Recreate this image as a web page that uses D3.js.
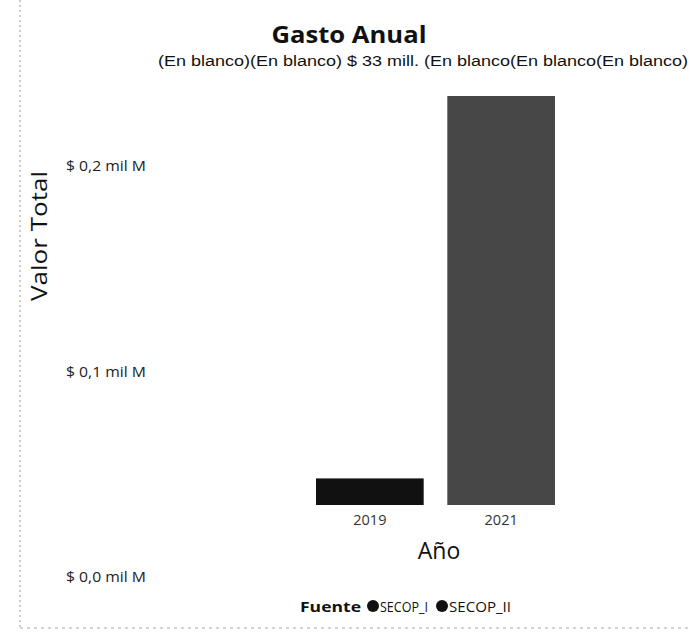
<!DOCTYPE html>
<html><head><meta charset="utf-8">
<script src="https://cdn.jsdelivr.net/npm/d3@7"></script>
<style>body{margin:0;background:#fff}svg{display:block}</style>
</head><body>
<svg id="c" width="691" height="642"></svg>
<script>
const years = ["2019", "2021"];
const series = ["SECOP_I", "SECOP_II"];
const secopI = [13, 0];     // millones
const secopII = [0, 200];   // millones
const tickValues = [0, 100, 200];
const tickLabels = ["$ 0,0 mil M", "$ 0,1 mil M", "$ 0,2 mil M"];
const dataLabelText = "(En blanco)(En blanco) $ 33 mill.  (En blanco(En blanco(En blanco)";

const colors = {SECOP_I: "#111111", SECOP_II: "#474747"};
const svg = d3.select("#c");
const font = "'Open Sans', 'Noto Sans', sans-serif";

// frame artifacts
svg.append("line").attr("x1",20).attr("x2",20).attr("y1",0).attr("y2",628)
  .attr("stroke","#999").attr("stroke-dasharray","2,3").attr("stroke-width",1);
svg.append("line").attr("x1",20).attr("x2",691).attr("y1",628).attr("y2",628)
  .attr("stroke","#aaa").attr("stroke-dasharray","3,4").attr("stroke-width",1);

const x = d3.scaleBand().domain(years).range([316, 555]).paddingInner(0.18).paddingOuter(0);
const y = d3.scaleLinear().domain([0, 200]).range([505, 96]);
const yTick = d3.scaleLinear().domain([0, 200]).range([577, 166]);

const stackData = years.map((yr, i) => ({year: yr, SECOP_I: secopI[i], SECOP_II: secopII[i]}));
const stacked = d3.stack().keys(series)(stackData);

svg.append("g").selectAll("g").data(stacked).join("g")
  .attr("fill", d => colors[d.key])
  .selectAll("rect").data(d => d.filter(p => p[1] - p[0] > 0)).join("rect")
  .attr("x", d => x(d.data.year)).attr("width", x.bandwidth())
  .attr("y", d => y(d[1])).attr("height", d => y(d[0]) - y(d[1]));

// title
svg.append("text").attr("x", 349).attr("y", 43).attr("text-anchor","middle")
  .attr("font-family", font).attr("font-weight","bold").attr("font-size", 23).attr("fill","#111")
  .attr("textLength", 155).attr("lengthAdjust","spacingAndGlyphs")
  .text("Gasto Anual");
// data labels row
svg.append("text").attr("x", 158).attr("y", 66)
  .attr("font-family","'Liberation Sans', Arial, sans-serif").attr("font-size", 14).attr("fill","#111")
  .attr("textLength", 530).attr("lengthAdjust","spacingAndGlyphs")
  .text(dataLabelText);

// y axis tick labels
const yAxis = d3.axisLeft(yTick).tickValues(tickValues).tickFormat((d,i) => tickLabels[i]).tickSize(0);
const gy = svg.append("g").attr("transform","translate(66,0)").call(yAxis);
gy.select(".domain").remove();
gy.selectAll("text").attr("text-anchor","start").attr("x",0)
  .attr("font-family", font).attr("font-size", 15).attr("fill","#222")
  .attr("textLength", 80).attr("lengthAdjust","spacingAndGlyphs");

// y title
svg.append("text").attr("transform","translate(47,236) rotate(-90)").attr("text-anchor","middle")
  .attr("font-family", font).attr("font-size", 21).attr("fill","#111")
  .attr("textLength", 130).attr("lengthAdjust","spacingAndGlyphs").text("Valor Total");

// x axis labels
const xAxis = d3.axisBottom(x).tickSize(0);
const gx = svg.append("g").attr("transform","translate(0,512)").call(xAxis);
gx.select(".domain").remove();
gx.selectAll("text").attr("font-family", font).attr("font-size", 14.5).attr("fill","#333");

svg.append("text").attr("x", 439).attr("y", 559).attr("text-anchor","middle")
  .attr("font-family", font).attr("font-size", 23).attr("fill","#111").text("Año");

// legend
const lg = svg.append("g").attr("font-family", font).attr("font-size", 15);
lg.append("text").attr("x", 300).attr("y", 612).attr("font-weight","bold").attr("fill","#111")
  .attr("textLength", 61).attr("lengthAdjust","spacingAndGlyphs").text("Fuente");
const legX = [373, 442];
const legW = [48, 62];
series.forEach((s, i) => {
  lg.append("circle").attr("cx", legX[i]).attr("cy", 606).attr("r", 6).attr("fill", colors.SECOP_I);
  lg.append("text").attr("x", legX[i] + 7).attr("y", 612).attr("fill","#111")
    .attr("textLength", legW[i]).attr("lengthAdjust","spacingAndGlyphs").text(s);
});
</script>
</body></html>
